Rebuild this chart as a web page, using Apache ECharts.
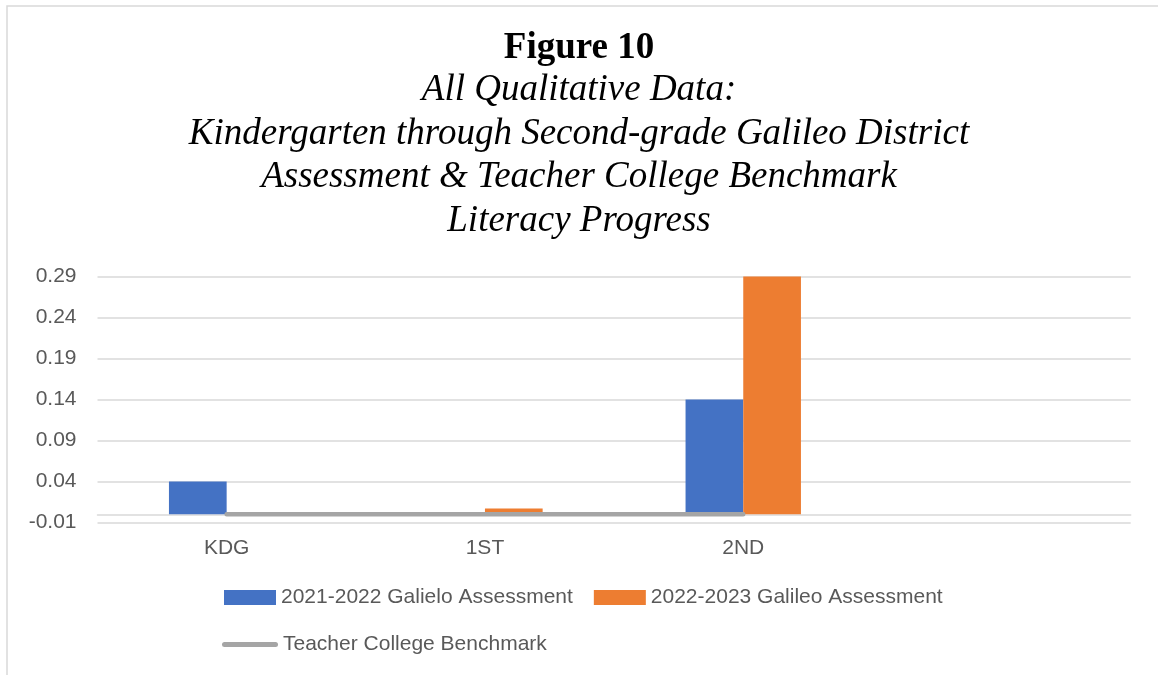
<!DOCTYPE html>
<html>
<head>
<meta charset="utf-8">
<script src="https://cdn.jsdelivr.net/npm/echarts@6/dist/echarts.min.js"></script>
<style>
html,body{margin:0;padding:0;background:#fff;}
#chart{width:1158px;height:675px;}
</style>
</head>
<body>
<div id="chart"></div>
<script>
const categories = ['KDG', '1ST', '2ND', ''];
const galileo2122 = [0.04, 0, 0.14, null];
const galileo2223 = [0, 0.007, 0.29, null];
const benchmark = [0, 0, 0, null];
const seriesNames = ['2021-2022 Galielo Assessment', '2022-2023 Galileo Assessment', 'Teacher College Benchmark'];
const titleText = 'Figure 10';
const subtitleLines = [
  'All Qualitative Data:',
  'Kindergarten through Second-grade Galileo District',
  'Assessment & Teacher College Benchmark',
  'Literacy Progress'
];
const yMin = -0.01, yMax = 0.29, yStep = 0.05;

const textColor = '#595959';
const sans = '"Liberation Sans", Arial, sans-serif';
const serif = '"Liberation Serif", "Times New Roman", serif';

const chart = echarts.init(document.getElementById('chart'), null, {renderer: 'canvas'});
chart.setOption({
  animation: false,
  backgroundColor: '#ffffff',
  graphic: [{
    type: 'rect',
    shape: {x: 7, y: 6, width: 1200, height: 720},
    style: {fill: 'none', stroke: '#d9d9d9', lineWidth: 1.5},
    silent: true
  }, {
    type: 'text',
    x: 579,
    y: 69,
    silent: true,
    style: {
      text: subtitleLines.join('\n'),
      align: 'center',
      verticalAlign: 'top',
      fontFamily: serif,
      fontStyle: 'italic',
      fontSize: 37,
      lineHeight: 43.5,
      fill: '#000'
    }
  }],
  title: [{
    text: titleText,
    left: 'center',
    top: 21,
    textStyle: {fontFamily: serif, fontWeight: 'bold', fontSize: 37, color: '#000', lineHeight: 44}
  }],
  legend: [{
    data: [seriesNames[0], seriesNames[1]],
    left: 224,
    top: 587,
    padding: 0,
    icon: 'rect',
    itemWidth: 52,
    itemHeight: 15,
    itemGap: 21,
    textStyle: {fontFamily: sans, fontSize: 21, color: textColor},
    selectedMode: false
  }, {
    data: [{name: seriesNames[2], icon: 'path://M2.5,0 H53.5 A2.5,2.5 0 0 1 53.5,5 H2.5 A2.5,2.5 0 0 1 2.5,0 Z'}],
    left: 222,
    top: 634,
    padding: 0,
    itemWidth: 56,
    itemHeight: 5,
    textStyle: {fontFamily: sans, fontSize: 21, color: textColor},
    selectedMode: false
  }],
  grid: {left: 97.5, right: 27.3, top: 276.5, bottom: 152.5, containLabel: false},
  xAxis: {
    type: 'category',
    data: categories,
    axisLine: {show: true, onZero: true, lineStyle: {color: '#d9d9d9', width: 1.5}},
    axisTick: {show: false},
    axisLabel: {fontFamily: sans, fontSize: 21, color: textColor, margin: 15},
    splitLine: {show: false}
  },
  yAxis: {
    type: 'value',
    min: yMin,
    max: yMax,
    interval: yStep,
    axisLine: {show: false},
    axisTick: {show: false},
    axisLabel: {fontFamily: sans, fontSize: 21, color: textColor, margin: 21,
      formatter: v => (Math.round(v * 100) / 100).toFixed(2)},
    splitLine: {show: true, lineStyle: {color: '#d9d9d9', width: 1.5}}
  },
  series: [{
    name: seriesNames[0],
    type: 'bar',
    data: galileo2122,
    barWidth: 57.7,
    barGap: '0%',
    itemStyle: {color: '#4472C4'}
  }, {
    name: seriesNames[1],
    type: 'bar',
    data: galileo2223,
    barWidth: 57.7,
    barGap: '0%',
    itemStyle: {color: '#ED7D31'}
  }, {
    name: seriesNames[2],
    type: 'line',
    data: benchmark,
    symbol: 'none',
    showSymbol: false,
    lineStyle: {color: '#A5A5A5', width: 4.5, cap: 'round'},
    itemStyle: {color: '#A5A5A5'},
    z: 5
  }]
});
</script>
</body>
</html>
